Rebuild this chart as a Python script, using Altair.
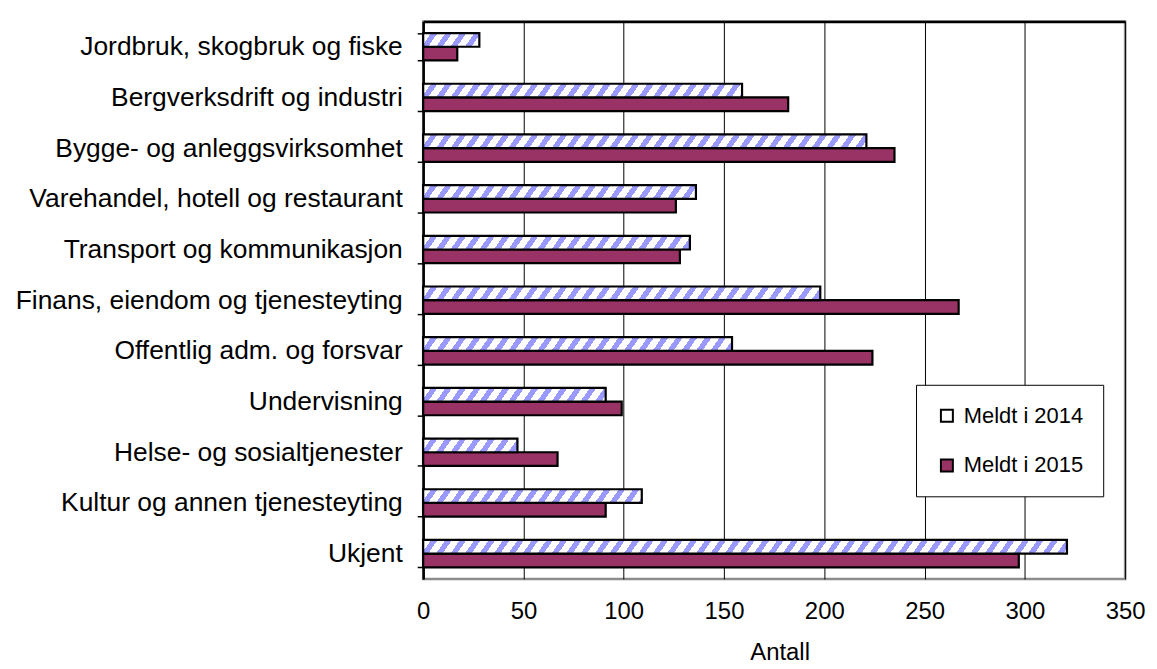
import altair as alt
import pandas as pd

# ---------------- data ----------------
categories = [
    "Jordbruk, skogbruk og fiske",
    "Bergverksdrift og industri",
    "Bygge- og anleggsvirksomhet",
    "Varehandel, hotell og restaurant",
    "Transport og kommunikasjon",
    "Finans, eiendom og tjenesteyting",
    "Offentlig adm. og forsvar",
    "Undervisning",
    "Helse- og sosialtjenester",
    "Kultur og annen tjenesteyting",
    "Ukjent",
]
meldt_2014 = [28, 159, 221, 136, 133, 198, 154, 91, 47, 109, 321]
meldt_2015 = [17, 182, 235, 126, 128, 267, 224, 99, 67, 91, 297]
series = ["Meldt i 2014", "Meldt i 2015"]
x_ticks = [0, 50, 100, 150, 200, 250, 300, 350]

# ---------------- layout / style ----------------
W, H = 705, 560
X_MAX = 350
PAD_INNER = 0.46
FONT = "Liberation Sans"
MAROON = "#993366"
STRIPE = "#9999ff"

df = pd.DataFrame({
    "category": categories * 2,
    "series": [series[0]] * len(categories) + [series[1]] * len(categories),
    "value": meldt_2014 + meldt_2015,
})

bar_h = H / len(categories) * (1 - PAD_INNER) / 2


def hatch(value, k=0.7, period=14.5, frac=0.45):
    """Diagonal stripe fill as a linear gradient, uniform stripe width per bar."""
    L = value * W / X_MAX
    D = L + k * bar_h
    s = D * L / (L * L + k * k * bar_h * bar_h)
    stops = []
    t = 0.0
    while t < D:
        a = t / D
        b = min((t + (1 - frac) * period) / D, 1.0)
        c = min((t + period) / D, 1.0)
        stops += [
            {"offset": a, "color": "white"},
            {"offset": b, "color": "white"},
            {"offset": b, "color": STRIPE},
            {"offset": c, "color": STRIPE},
        ]
        t += period
    return {"gradient": "linear", "x1": 0, "y1": 0, "x2": s,
            "y2": s * k * bar_h / L, "stops": stops}


x_scale = alt.Scale(domain=[0, X_MAX], nice=False, zero=True)
y_scale = alt.Scale(paddingInner=PAD_INNER, paddingOuter=PAD_INNER / 2)
yoff = alt.YOffset("series:N", scale=alt.Scale(domain=series, paddingInner=0, paddingOuter=0))

bottom_axis = alt.Axis(
    orient="bottom", values=x_ticks, grid=True, gridColor="black", gridWidth=1,
    ticks=False, tickSize=0, domain=False, labelFontSize=24, labelPadding=21,
    labelFlush=False, labelColor="black", title="Antall", titleFontSize=24,
    titleFontWeight="normal", titleColor="black", titlePadding=17, titleX=358,
)
top_axis = alt.Axis(
    orient="top", labels=False, ticks=False, grid=False, domain=True,
    domainColor="black", domainWidth=2.5, title=None,
)
left_axis = alt.Axis(
    orient="left", title=None, tickBand="extent", ticks=True, tickSize=6,
    tickColor="black", tickWidth=1.5, domain=True, domainColor="black",
    domainWidth=2.5, labelFontSize=26.5, labelPadding=15, labelColor="black",
    labelLimit=600, grid=False,
)


def y_enc():
    return alt.Y("category:N", sort=categories, scale=y_scale, axis=left_axis)


bars15 = alt.Chart(df).transform_filter(
    alt.datum.series == series[1]
).mark_bar(stroke="black", strokeWidth=2.2).encode(
    x=alt.X("value:Q", scale=x_scale, axis=bottom_axis),
    y=y_enc(),
    yOffset=yoff,
    color=alt.Color(
        "series:N",
        scale=alt.Scale(domain=series, range=["white", MAROON]),
        legend=alt.Legend(
            title=None, orient="none", legendX=495, legendY=365,
            fillColor="white", strokeColor="black", padding=20, rowPadding=28,
            symbolType="square", symbolSize=144, symbolStrokeColor="black",
            symbolStrokeWidth=2, labelFontSize=22, labelOffset=6,
            labelColor="black", labelExpr="datum.label + '   '",
        ),
    ),
)

bar_layers = [bars15]
for cat, v in zip(categories, meldt_2014):
    bar_layers.append(
        alt.Chart(df).transform_filter(
            (alt.datum.category == cat) & (alt.datum.series == series[0])
        ).mark_bar(fill=hatch(v), stroke="black", strokeWidth=2.2).encode(
            x=alt.X("value:Q", scale=x_scale, axis=bottom_axis),
            y=y_enc(),
            yOffset=yoff,
        )
    )

inner = alt.layer(*bar_layers)

# invisible layer that only carries the black top frame line
top_frame = alt.Chart(df).transform_filter(
    alt.datum.series == series[1]
).mark_bar(opacity=0).encode(
    x=alt.X("value:Q", scale=x_scale, axis=top_axis),
    y=y_enc(),
    yOffset=yoff,
)

chart = alt.layer(inner, top_frame).properties(
    width=W, height=H,
    autosize=alt.AutoSizeParams(type="none"),
    padding={"left": 417, "top": 12, "right": 24, "bottom": 88},
).configure_view(
    stroke="#8c8c8c", strokeWidth=2.5,
).configure_axis(
    labelFont=FONT, titleFont=FONT,
).configure_legend(
    labelFont=FONT,
)

chart.save("out.html", embed_options={"renderer": "svg", "actions": False})
